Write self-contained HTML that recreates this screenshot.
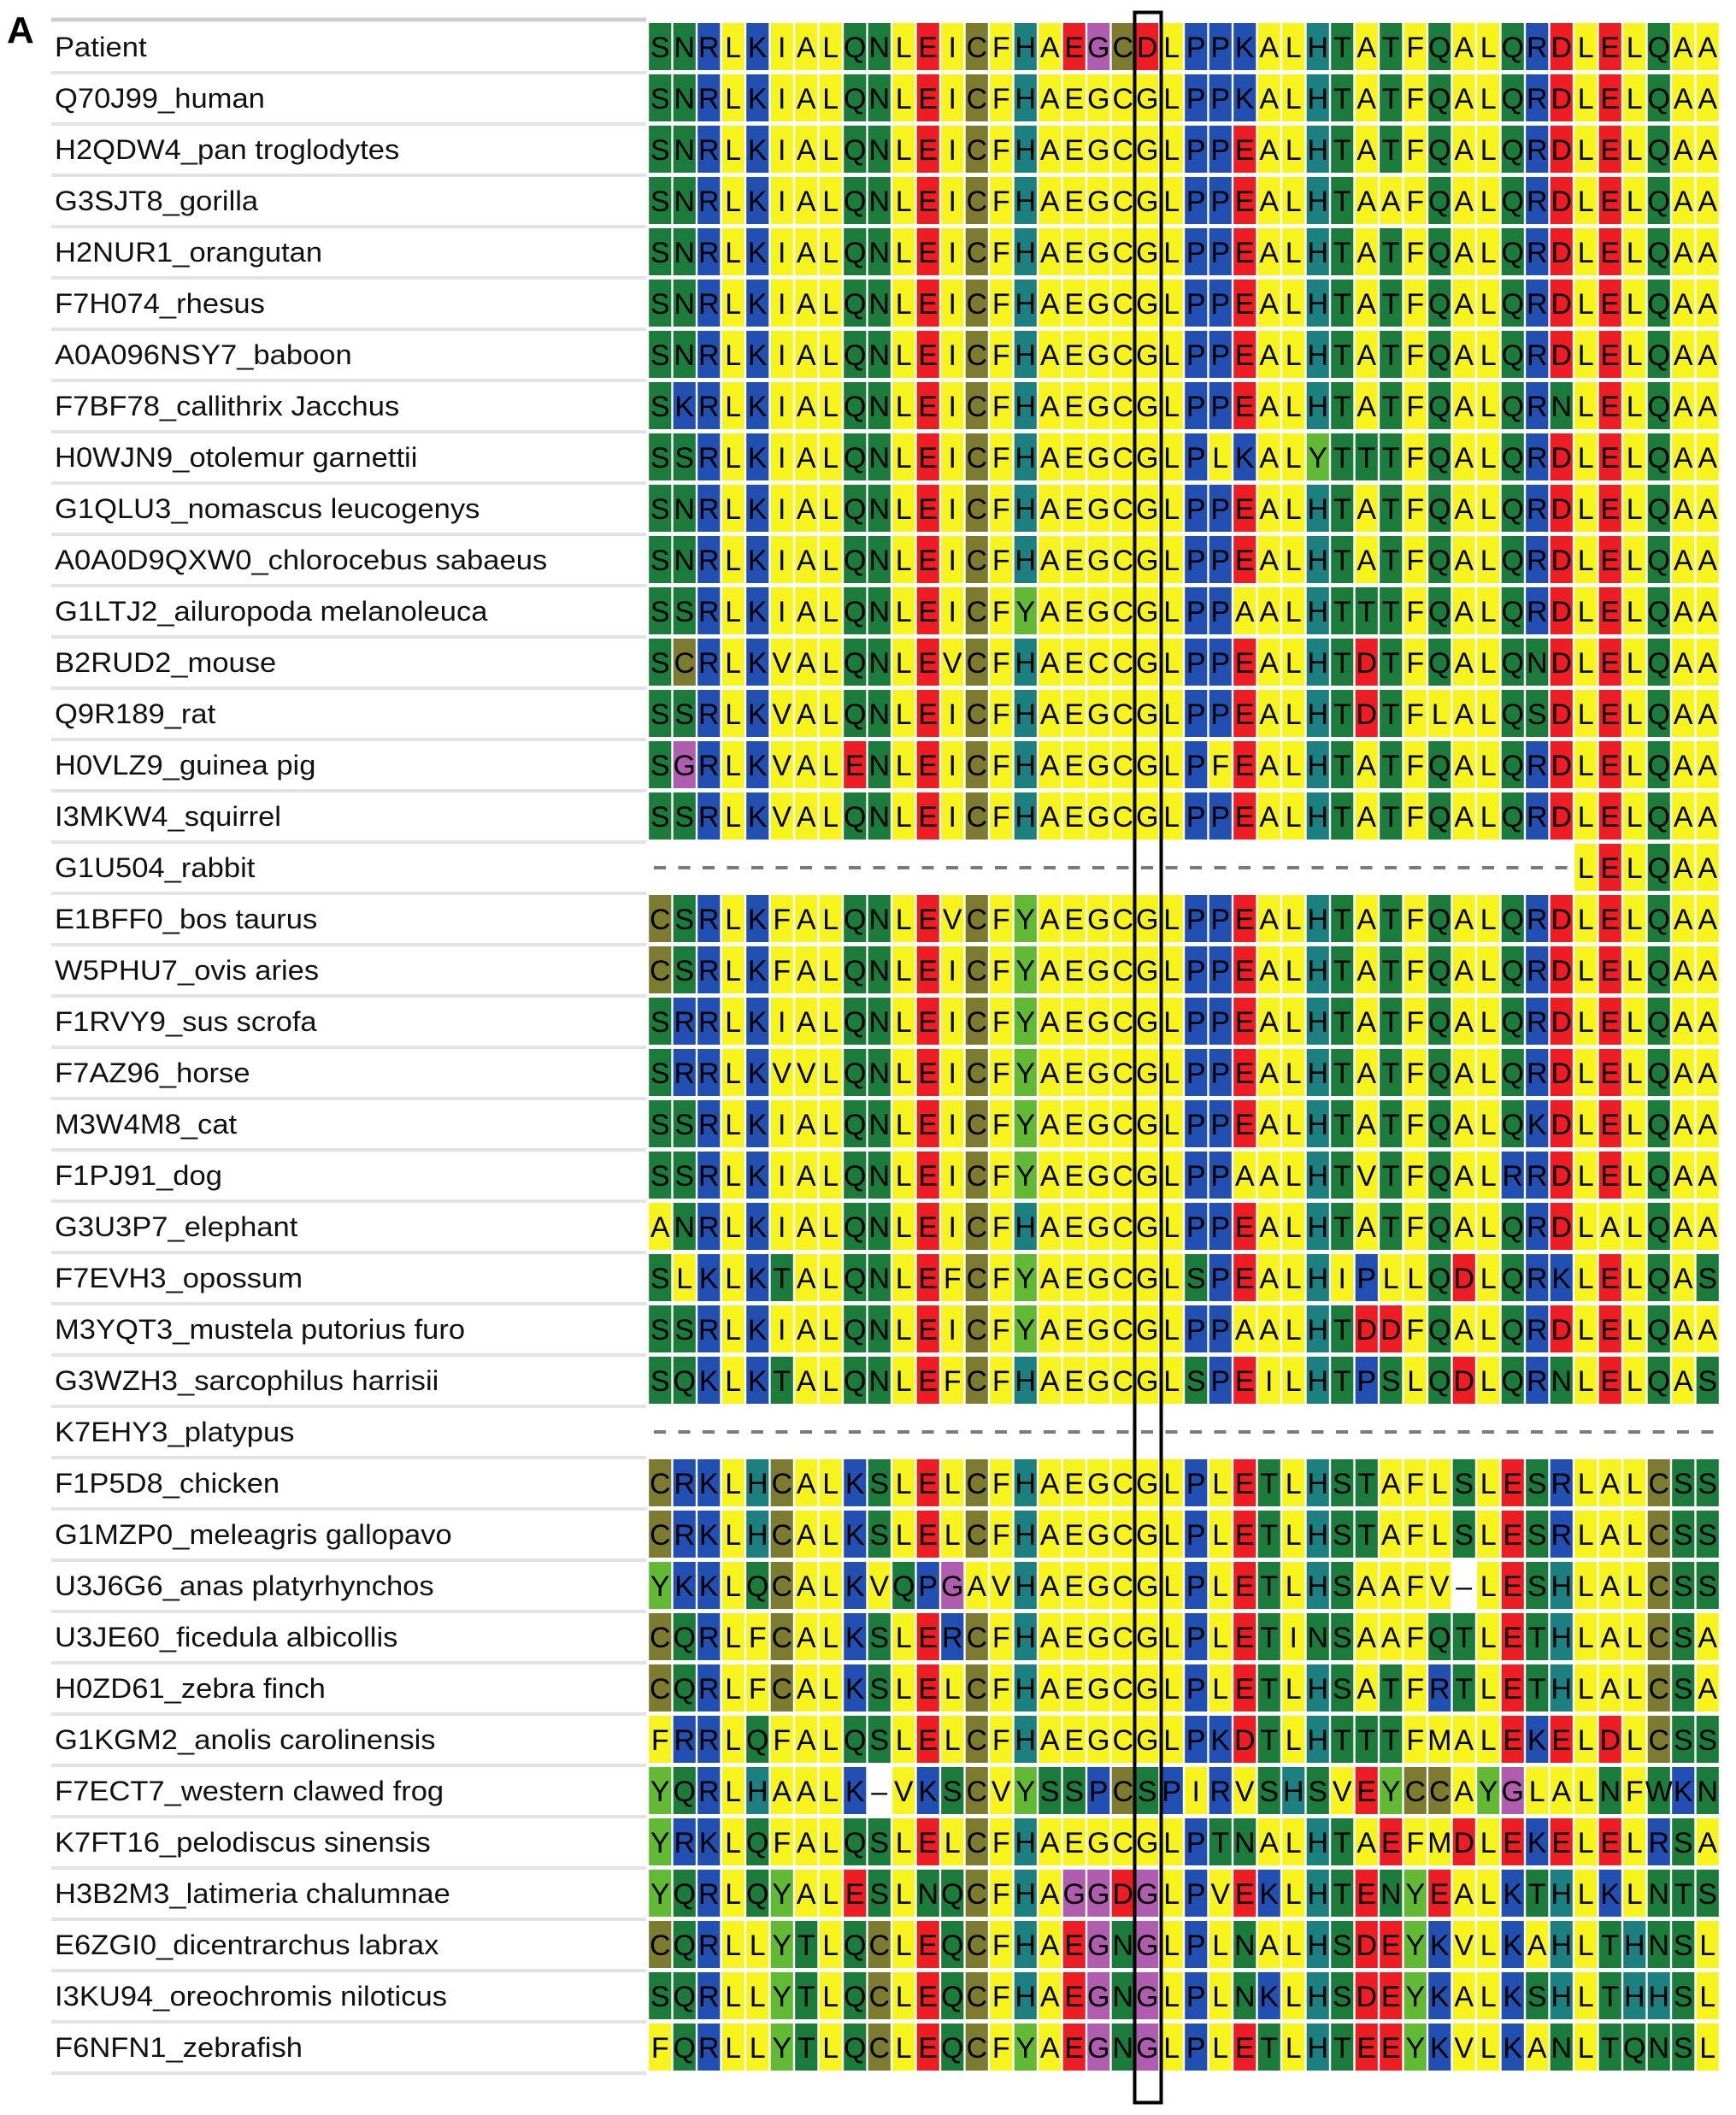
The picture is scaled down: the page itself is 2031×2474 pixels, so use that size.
<!DOCTYPE html>
<html>
<head>
<meta charset="utf-8">
<style>
html,body{margin:0;padding:0;background:#fff;}
svg{display:block;}
</style>
</head>
<body>
<svg id="fig" width="2031" height="2474" viewBox="0 0 2031 2474" xmlns="http://www.w3.org/2000/svg">
<rect width="2031" height="2474" fill="#fff"/>
<text x="8" y="50" font-family="Liberation Sans, sans-serif" font-weight="bold" font-size="44">A</text>
<line x1="60" y1="23" x2="756" y2="23" stroke="#cfcfcf" stroke-width="5"/>
<g id="labels"></g>
<g id="cells"></g>
<rect x="1327.5" y="14.5" width="31" height="2445" fill="none" stroke="#000" stroke-width="4"/>
</svg>
<script>
const names = ["Patient","Q70J99_human","H2QDW4_pan troglodytes","G3SJT8_gorilla","H2NUR1_orangutan","F7H074_rhesus","A0A096NSY7_baboon","F7BF78_callithrix Jacchus","H0WJN9_otolemur garnettii","G1QLU3_nomascus leucogenys","A0A0D9QXW0_chlorocebus sabaeus","G1LTJ2_ailuropoda melanoleuca","B2RUD2_mouse","Q9R189_rat","H0VLZ9_guinea pig","I3MKW4_squirrel","G1U504_rabbit","E1BFF0_bos taurus","W5PHU7_ovis aries","F1RVY9_sus scrofa","F7AZ96_horse","M3W4M8_cat","F1PJ91_dog","G3U3P7_elephant","F7EVH3_opossum","M3YQT3_mustela putorius furo","G3WZH3_sarcophilus harrisii","K7EHY3_platypus","F1P5D8_chicken","G1MZP0_meleagris gallopavo","U3J6G6_anas platyrhynchos","U3JE60_ficedula albicollis","H0ZD61_zebra finch","G1KGM2_anolis carolinensis","F7ECT7_western clawed frog","K7FT16_pelodiscus sinensis","H3B2M3_latimeria chalumnae","E6ZGI0_dicentrarchus labrax","I3KU94_oreochromis niloticus","F6NFN1_zebrafish"];
const seqs = [
"SNRLKIALQNLEICFHAEGCDLPPKALHTATFQALQRDLELQAA",
"SNRLKIALQNLEICFHAEGCGLPPKALHTATFQALQRDLELQAA",
"SNRLKIALQNLEICFHAEGCGLPPEALHTATFQALQRDLELQAA",
"SNRLKIALQNLEICFHAEGCGLPPEALHTAAFQALQRDLELQAA",
"SNRLKIALQNLEICFHAEGCGLPPEALHTATFQALQRDLELQAA",
"SNRLKIALQNLEICFHAEGCGLPPEALHTATFQALQRDLELQAA",
"SNRLKIALQNLEICFHAEGCGLPPEALHTATFQALQRDLELQAA",
"SKRLKIALQNLEICFHAEGCGLPPEALHTATFQALQRNLELQAA",
"SSRLKIALQNLEICFHAEGCGLPLKALYTTTFQALQRDLELQAA",
"SNRLKIALQNLEICFHAEGCGLPPEALHTATFQALQRDLELQAA",
"SNRLKIALQNLEICFHAEGCGLPPEALHTATFQALQRDLELQAA",
"SSRLKIALQNLEICFYAEGCGLPPAALHTTTFQALQRDLELQAA",
"SCRLKVALQNLEVCFHAECCGLPPEALHTDTFQALQNDLELQAA",
"SSRLKVALQNLEICFHAEGCGLPPEALHTDTFLALQSDLELQAA",
"SGRLKVALENLEICFHAEGCGLPFEALHTATFQALQRDLELQAA",
"SSRLKVALQNLEICFHAEGCGLPPEALHTATFQALQRDLELQAA",
"......................................LELQAA",
"CSRLKFALQNLEVCFYAEGCGLPPEALHTATFQALQRDLELQAA",
"CSRLKFALQNLEICFYAEGCGLPPEALHTATFQALQRDLELQAA",
"SRRLKIALQNLEICFYAEGCGLPPEALHTATFQALQRDLELQAA",
"SRRLKVVLQNLEICFYAEGCGLPPEALHTATFQALQRDLELQAA",
"SSRLKIALQNLEICFYAEGCGLPPEALHTATFQALQKDLELQAA",
"SSRLKIALQNLEICFYAEGCGLPPAALHTVTFQALRRDLELQAA",
"ANRLKIALQNLEICFHAEGCGLPPEALHTATFQALQRDLALQAA",
"SLKLKTALQNLEFCFYAEGCGLSPEALHIPLLQDLQRKLELQAS",
"SSRLKIALQNLEICFYAEGCGLPPAALHTDDFQALQRDLELQAA",
"SQKLKTALQNLEFCFHAEGCGLSPEILHTPSLQDLQRNLELQAS",
"............................................",
"CRKLHCALKSLELCFHAEGCGLPLETLHSTAFLSLESRLALCSS",
"CRKLHCALKSLELCFHAEGCGLPLETLHSTAFLSLESRLALCSS",
"YKKLQCALKVQPGAVHAEGCGLPLETLHSAAFV-LESHLALCSS",
"CQRLFCALKSLERCFHAEGCGLPLETINSAAFQTLETHLALCSA",
"CQRLFCALKSLELCFHAEGCGLPLETLHSATFRTLETHLALCSA",
"FRRLQFALQSLELCFHAEGCGLPKDTLHTTTFMALEKELDLCSS",
"YQRLHAALK-VKSCVYSSPCSPIRVSHSVEYCCAYGLALNFWKN",
"YRKLQFALQSLELCFHAEGCGLPTNALHTAEFMDLEKELELRSA",
"YQRLQYALESLNQCFHAGGDGLPVEKLHTENYEALKTHLKLNTS",
"CQRLLYTLQCLEQCFHAEGNGLPLNALHSDEYKVLKAHLTHNSL",
"SQRLLYTLQCLEQCFHAEGNGLPLNKLHSDEYKALKSHLTHHSL",
"FQRLLYTLQCLEQCFYAEGNGLPLETLHTEEYKVLKANLTQNSL"
];
const fullColorRows = [0, 34, 36, 37, 38, 39];

const X0 = 758, CW = 28.5, Y0 = 25, RH = 60;
const YEL="#f7f31c", GRN="#1b7b3b", BLU="#2150b2", RED="#ee1d23", TEAL="#1c7f80", OLV="#7d7b2f", MAG="#b05db0", LGR="#62b934";
const cmap = {A:YEL,I:YEL,L:YEL,V:YEL,F:YEL,M:YEL,W:GRN,Y:LGR,H:TEAL,C:OLV,G:MAG,P:BLU,K:BLU,R:BLU,D:RED,E:RED,S:GRN,T:GRN,N:GRN,Q:GRN};
const NS="http://www.w3.org/2000/svg";
const labels=document.getElementById('labels'), cells=document.getElementById('cells');
function mk(tag, attrs, parent){const e=document.createElementNS(NS,tag);for(const k in attrs)e.setAttribute(k,attrs[k]);parent.appendChild(e);return e;}

for(let r=0;r<names.length;r++){
  const top=Y0+r*RH;
  const sep=mk('line',{x1:60,y1:top+RH,x2:756,y2:top+RH,stroke:'#e3e3e3','stroke-width':4},labels);
  
  
  const t=mk('text',{transform:`translate(64,${top+41}) scale(1.08,1)`,'font-family':'Liberation Sans, sans-serif','font-size':32,fill:'#111'},labels);
  t.textContent=names[r];
  
  
  const s=seqs[r];
  for(let c=0;c<s.length;c++){
    const ch=s[c], x=X0+c*CW;
    if(ch==='.'){
      const d=mk('rect',{x:x+7,y:top+28,width:14,height:4,fill:'#7a7a7a'},cells);
      
      
      continue;
    }
    let col=cmap[ch]||'#fff';
    if(ch==='-') col='#fff';
    if(c>=17&&c<=20&&fullColorRows.indexOf(r)<0&&ch!=='-') col=YEL;
    const rc=mk('rect',{x:x+1.2,y:top+2,width:CW-2.4,height:RH-5,fill:col},cells);
    
    
    const tx=mk('text',{x:x+CW/2,y:top+42,'text-anchor':'middle','font-family':'Liberation Sans, sans-serif','font-size':34,fill:'#000'},cells);
    tx.textContent=ch==='-'?'–':ch;
    
    
  }
}
</script>
</body>
</html>
